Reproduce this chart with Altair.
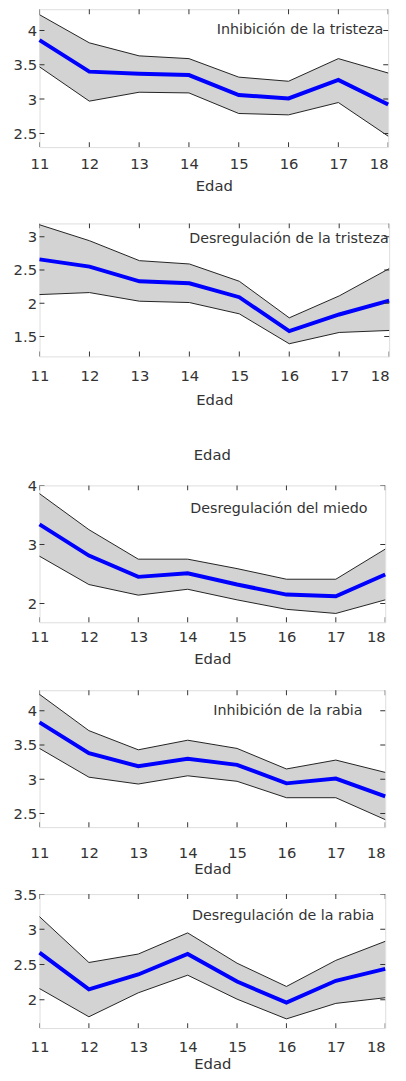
import altair as alt
import pandas as pd

# ---------------- data ----------------
ages = [11, 12, 13, 14, 15, 16, 17, 18]
x_title = "Edad"

panel_labels = [
    "Inhibición de la tristeza",
    "Desregulación de la tristeza",
    "Desregulación del miedo",
    "Inhibición de la rabia",
    "Desregulación de la rabia",
]

inh_tristeza_mean = [3.86, 3.40, 3.37, 3.35, 3.06, 3.01, 3.28, 2.92]
inh_tristeza_upper = [4.23, 3.82, 3.63, 3.59, 3.32, 3.26, 3.59, 3.38]
inh_tristeza_lower = [3.47, 2.97, 3.10, 3.09, 2.79, 2.77, 2.95, 2.46]

des_tristeza_mean = [2.66, 2.55, 2.33, 2.30, 2.09, 1.58, 1.83, 2.04]
des_tristeza_upper = [3.18, 2.94, 2.64, 2.59, 2.33, 1.78, 2.11, 2.52]
des_tristeza_lower = [2.13, 2.16, 2.03, 2.01, 1.84, 1.39, 1.56, 1.59]

des_miedo_mean = [3.34, 2.81, 2.45, 2.51, 2.32, 2.15, 2.12, 2.49]
des_miedo_upper = [3.86, 3.25, 2.75, 2.75, 2.59, 2.41, 2.41, 2.92]
des_miedo_lower = [2.80, 2.32, 2.14, 2.24, 2.06, 1.90, 1.83, 2.06]

inh_rabia_mean = [3.83, 3.38, 3.19, 3.30, 3.21, 2.94, 3.01, 2.75]
inh_rabia_upper = [4.24, 3.71, 3.43, 3.57, 3.45, 3.15, 3.28, 3.10]
inh_rabia_lower = [3.45, 3.03, 2.93, 3.05, 2.97, 2.73, 2.73, 2.41]

des_rabia_mean = [2.67, 2.15, 2.36, 2.65, 2.26, 1.96, 2.27, 2.44]
des_rabia_upper = [3.18, 2.53, 2.65, 2.95, 2.52, 2.19, 2.56, 2.83]
des_rabia_lower = [2.16, 1.76, 2.10, 2.35, 2.01, 1.73, 1.95, 2.03]

y_tick_values = [
    [2.5, 3, 3.5, 4],
    [1.5, 2, 2.5, 3],
    [2, 3, 4],
    [2.5, 3, 3.5, 4],
    [2, 2.5, 3, 3.5],
]
y_domains = [
    [2.3, 4.31],
    [1.2, 3.2],
    [1.68, 4.0],
    [2.3, 4.3],
    [1.6, 3.5],
]

series = [
    (inh_tristeza_mean, inh_tristeza_upper, inh_tristeza_lower),
    (des_tristeza_mean, des_tristeza_upper, des_tristeza_lower),
    (des_miedo_mean, des_miedo_upper, des_miedo_lower),
    (inh_rabia_mean, inh_rabia_upper, inh_rabia_lower),
    (des_rabia_mean, des_rabia_upper, des_rabia_lower),
]

# ---------------- styling / layout ----------------
FONT = "DejaVu Sans"
TXT = "#333333"
FRAME = "#333333"
YEXT = 31

layout = [
    dict(w=354, h=140, lp=10, ty=39, dx=-5, dy=21, top=None),
    dict(w=355, h=135, lp=12, ty=43.5, dx=-0.5, dy=16, top=None),
    dict(w=351, h=139, lp=8, ty=37, dx=-18, dy=24, top=("edad", 15.5)),
    dict(w=351, h=139, lp=19, ty=42, dx=-23, dy=21, top=("spacer", 12)),
    dict(w=351, h=136, lp=12, ty=36, dx=-11, dy=22, top=None),
]


def make_panel(i):
    mean, upper, lower = series[i]
    L = layout[i]
    df = pd.DataFrame({"Edad": ages, "media": mean, "sup": upper, "inf": lower})
    ymin, ymax = y_domains[i]
    xs = alt.Scale(domain=[ages[0], ages[-1]], nice=False, zero=False)
    ys = alt.Scale(domain=y_domains[i], nice=False, zero=False)

    x_axis = alt.Axis(
        orient="bottom", values=ages, format="d", domain=False, ticks=True,
        tickSize=0, tickColor="transparent", grid=False, labelFlush=False,
        labelOverlap=False, labelPadding=L["lp"], labelFont=FONT, labelFontSize=15,
        labelColor=TXT,
        labelAlign={"condition": {"test": f"datum.value == {ages[-1]}", "value": "right"},
                    "value": "center"},
        title=x_title, titleFont=FONT, titleFontSize=15,
        titleFontWeight="normal", titleColor=TXT, titleY=L["ty"],
        titleBaseline="middle",
    )
    y_axis = alt.Axis(
        orient="left", values=y_tick_values[i], format="~g", domain=False,
        ticks=True, tickSize=0, tickColor="transparent", grid=False,
        labelFlush=False, labelOverlap=False, labelPadding=3, labelFont=FONT,
        labelFontSize=15, labelColor=TXT, title=None,
        minExtent=YEXT, maxExtent=YEXT,
    )

    base = alt.Chart(df)
    band = base.mark_area(color="#d3d3d3", opacity=1).encode(
        x=alt.X("Edad:Q", scale=xs, axis=x_axis),
        y=alt.Y("inf:Q", scale=ys, axis=y_axis),
        y2="sup:Q",
    )
    up_line = base.mark_line(color="#222222", strokeWidth=1).encode(
        x=alt.X("Edad:Q", scale=xs),
        y=alt.Y("sup:Q", scale=ys),
    )
    low_line = base.mark_line(color="#222222", strokeWidth=1).encode(
        x=alt.X("Edad:Q", scale=xs),
        y=alt.Y("inf:Q", scale=ys),
    )
    mean_line = base.mark_line(color="#0000ff", strokeWidth=4).encode(
        x=alt.X("Edad:Q", scale=xs),
        y=alt.Y("media:Q", scale=ys),
    )

    # inward tick marks on all four sides (clipped to the frame)
    xt_df = pd.DataFrame({"Edad": ages})
    yt_df = pd.DataFrame({"inf": y_tick_values[i]})
    tick_style = dict(size=10, thickness=1, color=FRAME, clip=True, opacity=1)
    x_ticks = [
        alt.Chart(xt_df).mark_tick(orient="vertical", **tick_style).encode(
            x=alt.X("Edad:Q", scale=xs),
            y=alt.YDatum(edge, type="quantitative", scale=ys),
        )
        for edge in (ymin, ymax)
    ]
    y_ticks = [
        alt.Chart(yt_df).mark_tick(orient="horizontal", **tick_style).encode(
            y=alt.Y("inf:Q", scale=ys),
            x=alt.XDatum(edge, type="quantitative", scale=xs),
        )
        for edge in (ages[0], ages[-1])
    ]

    label = alt.Chart(pd.DataFrame({"etiqueta": [panel_labels[i]]})).mark_text(
        align="right", baseline="middle", dx=L["dx"], dy=L["dy"],
        font=FONT, fontSize=14.5, color=TXT,
    ).encode(
        x=alt.XDatum(ages[-1], type="quantitative", scale=xs),
        y=alt.YDatum(ymax, type="quantitative", scale=ys),
        text="etiqueta:N",
    )

    props = dict(width=L["w"], height=L["h"])
    top = L["top"]
    if top is not None:
        kind, off = top
        if kind == "spacer":
            props["title"] = alt.TitleParams(" ", fontSize=1, offset=off)
        else:
            props["title"] = alt.TitleParams(
                x_title, font=FONT, fontSize=15, fontWeight="normal",
                color=TXT, offset=off, anchor="middle", frame="group",
            )
    return alt.layer(
        band, up_line, low_line, mean_line, *x_ticks, *y_ticks, label
    ).properties(**props)


p = [make_panel(i) for i in range(5)]
group_a = alt.vconcat(p[0], p[1], spacing=27.5)
group_b = alt.vconcat(p[2], p[3], p[4], spacing=9)

chart = alt.vconcat(group_a, group_b, spacing=40.5).properties(
    padding={"top": -8, "left": 0, "right": 0, "bottom": 0}
).configure_view(stroke=FRAME, strokeWidth=1.3).configure(background="white")

chart.save("out.html", embed_options={"renderer": "svg", "actions": False})
